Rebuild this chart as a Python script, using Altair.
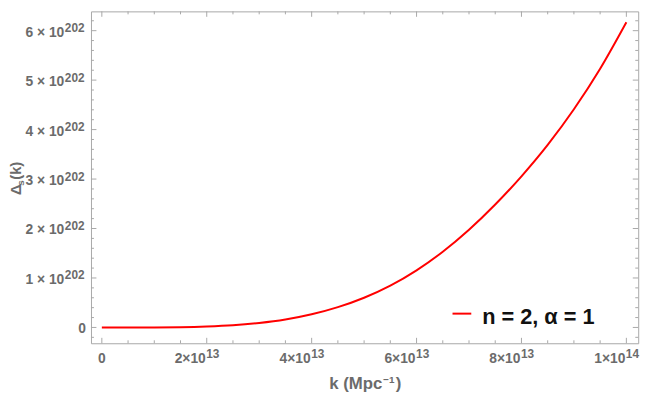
import altair as alt
import pandas as pd

# ---- data ----
k_values = [0.0, 0.5e13, 1.0e13, 1.5e13, 2.0e13, 2.5e13, 3.0e13, 3.5e13, 4.0e13, 4.5e13,
            5.0e13, 5.5e13, 6.0e13, 6.5e13, 7.0e13, 7.5e13, 8.0e13, 8.5e13, 9.0e13, 9.5e13, 1.0e14]
delta_values = [0.0, 0.0001e202, 0.001e202, 0.006e202, 0.02e202, 0.045e202, 0.09e202, 0.16e202,
                0.265e202, 0.41e202, 0.60e202, 0.845e202, 1.155e202, 1.53e202, 1.975e202, 2.485e202,
                3.055e202, 3.69e202, 4.41e202, 5.23e202, 6.17e202]

x_major = [2e13, 4e13, 6e13, 8e13, 1e14]
x_base_labels = ["2×10", "4×10", "6×10", "8×10", "1×10"]
x_exp_labels = ["13", "13", "13", "13", "14"]
x_minor = [0.5e13, 1.0e13, 1.5e13, 2.5e13, 3.0e13, 3.5e13, 4.5e13, 5.0e13, 5.5e13,
           6.5e13, 7.0e13, 7.5e13, 8.5e13, 9.0e13, 9.5e13]

y_major = [1e202, 2e202, 3e202, 4e202, 5e202, 6e202]
y_base_labels = ["1 × 10", "2 × 10", "3 × 10", "4 × 10", "5 × 10", "6 × 10"]
y_exp_labels = ["202"] * 6
y_minor = [-0.2e202] + [v * 1e202 for v in
           [0.2, 0.4, 0.6, 0.8, 1.2, 1.4, 1.6, 1.8, 2.2, 2.4, 2.6, 2.8, 3.2, 3.4, 3.6, 3.8,
            4.2, 4.4, 4.6, 4.8, 5.2, 5.4, 5.6, 5.8, 6.2]]

legend_label = ["n = 2, α = 1"]
x_title = ["k (Mpc", "−1", ")"]
y_title = ["Δ", "s", "(k)"]

# ---- layout ----
W, H = 554, 336
GRAY = "#6b6b6b"
FRAME = "#a8a8a8"
RED = "#ff0000"
FONT = "Liberation Sans"

xs = alt.Scale(domain=[-2.07e12, 1.0226e14], nice=False, zero=False)
ys = alt.Scale(domain=[-0.32e202, 6.39e202], nice=False, zero=False)

df = pd.DataFrame({"k": k_values, "d": delta_values})

line = alt.Chart(df).mark_line(color=RED, strokeWidth=2, interpolate="monotone").encode(
    x=alt.X("k:Q", scale=xs, axis=None),
    y=alt.Y("d:Q", scale=ys, axis=None),
)


def vticks(vals, y0, y1):
    return alt.Chart(pd.DataFrame({"v": vals})).mark_rule(color=FRAME, strokeWidth=1).encode(
        x=alt.X("v:Q", scale=xs, axis=None), y=alt.value(y0), y2=alt.value(y1))


def hticks(vals, x0, x1):
    return alt.Chart(pd.DataFrame({"v": vals})).mark_rule(color=FRAME, strokeWidth=1).encode(
        y=alt.Y("v:Q", scale=ys, axis=None), x=alt.value(x0), x2=alt.value(x1))


xmaj_all = [0.0] + x_major
ymaj_all = [0.0] + y_major
ticks = [
    vticks(xmaj_all, H, H - 5.5), vticks(x_minor, H, H - 3),
    vticks(xmaj_all, 0, 5.5), vticks(x_minor, 0, 3),
    hticks(ymaj_all, 0, 5.5), hticks(y_minor, 0, 3),
    hticks(ymaj_all, W, W - 5.5), hticks(y_minor, W, W - 3),
]

# x tick labels
xl = pd.DataFrame({"v": x_major, "b": x_base_labels, "e": x_exp_labels})
x_base = alt.Chart(xl).mark_text(align="right", baseline="alphabetic", dx=-1, fontSize=14,
                                 fontWeight="bold", color=GRAY, font=FONT).encode(
    x=alt.X("v:Q", scale=xs, axis=None), y=alt.value(356), text="b:N")
x_exp = alt.Chart(xl).mark_text(align="left", baseline="alphabetic", dx=-0.5, fontSize=12,
                                fontWeight="bold", color=GRAY, font=FONT).encode(
    x=alt.X("v:Q", scale=xs, axis=None), y=alt.value(351), text="e:N")
x_zero = alt.Chart(pd.DataFrame({"v": [0.0], "t": ["0"]})).mark_text(
    align="center", baseline="alphabetic", fontSize=14, fontWeight="bold", color=GRAY, font=FONT).encode(
    x=alt.X("v:Q", scale=xs, axis=None), y=alt.value(356), text="t:N")

# y tick labels
yl = pd.DataFrame({"v": y_major, "b": y_base_labels, "e": y_exp_labels})
y_base = alt.Chart(yl).mark_text(align="right", baseline="alphabetic", dy=6, fontSize=14,
                                 fontWeight="bold", color=GRAY, font=FONT).encode(
    y=alt.Y("v:Q", scale=ys, axis=None), x=alt.value(-27), text="b:N")
y_exp = alt.Chart(yl).mark_text(align="left", baseline="alphabetic", dy=1.5, fontSize=12,
                                fontWeight="bold", color=GRAY, font=FONT).encode(
    y=alt.Y("v:Q", scale=ys, axis=None), x=alt.value(-26.5), text="e:N")
y_zero = alt.Chart(pd.DataFrame({"v": [0.0], "t": ["0"]})).mark_text(
    align="right", baseline="alphabetic", dy=6, fontSize=14, fontWeight="bold", color=GRAY, font=FONT).encode(
    y=alt.Y("v:Q", scale=ys, axis=None), x=alt.value(-5), text="t:N")


def txt(t, x, y, size, align="left", angle=0, color=GRAY):
    props = dict(align=align, baseline="alphabetic", fontSize=size, fontWeight="bold",
                 color=color, font=FONT)
    if angle:
        props["angle"] = angle
    return alt.Chart(pd.DataFrame({"t": [t]})).mark_text(**props).encode(
        x=alt.value(x), y=alt.value(y), text="t:N")


titles = [
    txt(x_title[0], 295, 382.5, 17, align="right"),
    txt(x_title[1], 296, 376, 10),
    txt(x_title[2], 308.5, 382.5, 17),
    txt(y_title[0], -70.5, 186, 15, angle=270),
    txt(y_title[1], -67.5, 176.5, 10, angle=270),
    txt(y_title[2], -70.5, 170.5, 15, angle=270),
]

legend_line = alt.Chart(pd.DataFrame({"t": legend_label})).mark_rule(color=RED, strokeWidth=2).encode(
    x=alt.value(366), x2=alt.value(385), y=alt.value(306))
legend_text = txt(legend_label[0], 396, 316.5, 22, color="#111111")

chart = alt.layer(
    *ticks, line, x_base, x_exp, x_zero, y_base, y_exp, y_zero, *titles, legend_line, legend_text
).properties(
    width=W, height=H,
    autosize=alt.AutoSizeParams(type="none"),
    padding={"left": 84, "top": 1, "right": 18, "bottom": 53},
).configure_view(stroke=FRAME, strokeWidth=1)

chart.save("out.html", embed_options={"renderer": "svg", "actions": False})
